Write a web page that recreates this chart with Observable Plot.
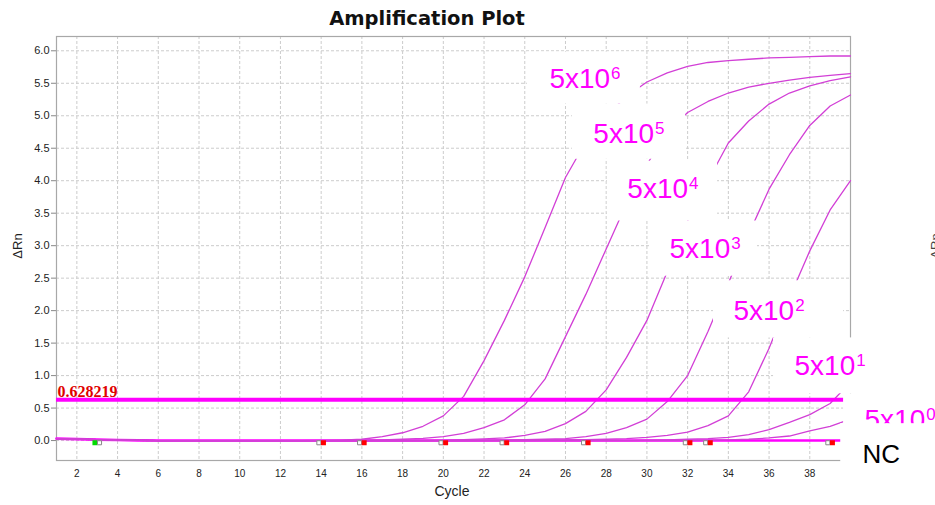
<!DOCTYPE html>
<html>
<head>
<meta charset="utf-8">
<script src="https://cdn.jsdelivr.net/npm/d3@7"></script>
<script src="https://cdn.jsdelivr.net/npm/@observablehq/plot@0.6"></script>
<style>
  html, body { margin: 0; padding: 0; background: #fff; }
  svg { display: block; }
</style>
</head>
<body>
<div id="chart"></div>
<script>
// Amplification cycles
const cycles = [1,2,3,4,5,6,7,8,9,10,11,12,13,14,15,16,17,18,19,20,
                21,22,23,24,25,26,27,28,29,30,31,32,33,34,35,36,37,38,39,40];

// ΔRn per cycle for each template dilution
const rn5e6 = [0.03,0.022,0.015,0.008,0.003, 0,0,0,0,0, 0,0,0,0.002,0.008, 0.02,0.06,0.12,0.22,0.38,
               0.68,1.23,1.85,2.52,3.28, 4.05,4.6,5.0,5.3,5.52, 5.66,5.76,5.82,5.85,5.87, 5.89,5.9,5.91,5.92,5.92];
const rn5e5 = [0.03,0.022,0.015,0.008,0.003, 0,0,0,0,0, 0,0,0,0,0, 0.005,0.01,0.02,0.035,0.06,
               0.11,0.2,0.32,0.55,0.95, 1.6,2.25,2.95,3.65,4.25, 4.75,5.05,5.22,5.35,5.44, 5.5,5.55,5.59,5.62,5.65];
const rn5e4 = [0.03,0.022,0.015,0.008,0.003, 0,0,0,0,0, 0,0,0,0,0, 0,0,0,0.003,0.008,
               0.015,0.025,0.04,0.08,0.14, 0.26,0.45,0.78,1.28,1.85, 2.6,3.38,4.0,4.58,4.92, 5.18,5.35,5.46,5.54,5.6];
const rn5e3 = [0.03,0.022,0.015,0.008,0.003, 0,0,0,0,0, 0,0,0,0,0, 0,0,0,0,0,
               0,0.005,0.01,0.015,0.02, 0.03,0.06,0.11,0.2,0.33, 0.6,1.0,1.68,2.42,3.18, 3.87,4.4,4.85,5.15,5.32];
const rn5e2 = [0.03,0.022,0.015,0.008,0.003, 0,0,0,0,0, 0,0,0,0,0, 0,0,0,0,0,
               0,0,0,0,0.005, 0.01,0.015,0.02,0.03,0.05, 0.08,0.13,0.23,0.38,0.75, 1.42,2.2,2.92,3.55,4.0];
const rn5e1 = [0.03,0.022,0.015,0.008,0.003, 0,0,0,0,0, 0,0,0,0,0, 0,0,0,0,0,
               0,0,0,0,0, 0,0,0,0,0.005, 0.01,0.02,0.03,0.05,0.09, 0.17,0.28,0.4,0.57,0.9];
const rn5e0 = [0.03,0.022,0.015,0.008,0.003, 0,0,0,0,0, 0,0,0,0,0, 0,0,0,0,0,
               0,0,0,0,0, 0,0,0,0,0, 0,0,0.005,0.01,0.02, 0.04,0.07,0.15,0.22,0.33];
const rnNC  = [0.03,0.022,0.015,0.008,0.003, 0,0,0,0,0, 0,0,0,0,0, 0,0,0,0,0,
               0,0,0,0,0, 0,0,0,0,0, 0,0,0,0,0, 0,0,0,0,0];

const seriesNames  = ["5x10^6", "5x10^5", "5x10^4", "5x10^3", "5x10^2", "5x10^1", "5x10^0"];
const seriesValues = [rn5e6, rn5e5, rn5e4, rn5e3, rn5e2, rn5e1, rn5e0];

// Threshold and baseline markers
const threshold = 0.628219;
const baselineStartCycles = [3];
const baselineEndCycles = [14, 16, 20, 23, 27, 32, 33, 39];

// Axis ticks
const xTicks = [2,4,6,8,10,12,14,16,18,20,22,24,26,28,30,32,34,36,38];
const yTicks = [0,0.5,1,1.5,2,2.5,3,3.5,4,4.5,5,5.5,6];

// Where each dilution label sits (cycle / ΔRn units): text anchor and its white backing box
const labelPlacement = [
  {label: "5x10^6", cx: 25.21, ry: 5.56, c1: 24.13, c2: 29.68, r1: 5.18, r2: 5.98},
  {label: "5x10^5", cx: 27.37, ry: 4.72, c1: 26.34, c2: 31.90, r1: 4.33, r2: 5.18},
  {label: "5x10^4", cx: 29.04, ry: 3.87, c1: 28.06, c2: 33.47, r1: 3.38, r2: 4.30},
  {label: "5x10^3", cx: 31.11, ry: 2.95, c1: 30.18, c2: 35.43, r1: 2.53, r2: 3.38},
  {label: "5x10^2", cx: 34.25, ry: 2.00, c1: 33.27, c2: 39.66, r1: 1.58, r2: 2.46},
  {label: "5x10^1", cx: 37.25, ry: 1.14, c1: 36.22, c2: 44.20, r1: 0.72, r2: 1.58},
  {label: "5x10^0", cx: 40.69, ry: 0.32, c1: 39.66, c2: 44.20, r1: 0.23, r2: 0.72}
];
const ncPlacement = [{label: "NC", cx: 40.59, ry: -0.215, c1: 39.52, c2: 44.20, r1: -0.61, r2: 0.26}];

// Long-format table for the line marks
const curves = seriesNames.flatMap((name, i) =>
  cycles.map((c, j) => ({series: name, cycle: c, rn: seriesValues[i][j]})));
const ncCurve = cycles.map((c, j) => ({series: "NC", cycle: c, rn: rnNC[j]}));

const curveColor = "#d23fd6";
const magenta = "#ff00ff";
const gridStyle = {stroke: "#cccccc", strokeOpacity: 1, strokeDasharray: "3,2"};

const plot = Plot.plot({
  width: 935,
  height: 505,
  marginLeft: 56,
  marginRight: 85,
  marginTop: 36,
  marginBottom: 45,
  style: {fontFamily: "'Liberation Sans', Arial, sans-serif", background: "#fff", color: "#222"},
  x: {domain: [1, 40], label: null},
  y: {domain: [-0.307, 6.22], label: null},
  marks: [
    Plot.gridX(xTicks, gridStyle),
    Plot.gridY(yTicks, gridStyle),
    Plot.axisX(xTicks, {tickSize: 0, tickPadding: 9, fontSize: 10, label: null}),
    Plot.axisY(yTicks, {tickSize: 5, tickPadding: 2, fontSize: 11, tickFormat: d3.format(".1f"), label: null, stroke: "#888"}),
    Plot.frame({stroke: "#a8a8a8", strokeWidth: 1.2}),
    Plot.line(ncCurve, {x: "cycle", y: "rn", stroke: magenta, strokeWidth: 2.6}),
    Plot.line(curves, {x: "cycle", y: "rn", z: "series", stroke: curveColor, strokeWidth: 1.3}),
    Plot.ruleY([threshold], {x1: 1, x2: 40, stroke: magenta, strokeWidth: 4}),
    Plot.text([threshold], {x: 1, y: threshold, text: d => String(d), textAnchor: "start", lineAnchor: "bottom",
      dx: 1, dy: -3, fill: "#e00000", fontWeight: "bold", fontSize: 16, fontFamily: "'Liberation Serif', 'Times New Roman', serif"}),
    // baseline start (green) / end (red) flags with their open partners
    Plot.dot(baselineStartCycles, {x: d => d, y: 0, dx: -2.3, dy: 2.2, symbol: "square", r: 2.8, fill: "#00dd00"}),
    Plot.dot(baselineStartCycles, {x: d => d, y: 0, dx: 2.3, dy: 2.2, symbol: "square", r: 2.3, fill: "white", stroke: "#888", strokeWidth: 1}),
    Plot.dot(baselineEndCycles, {x: d => d, y: 0, dx: -2.3, dy: 2.2, symbol: "square", r: 2.3, fill: "white", stroke: "#888", strokeWidth: 1}),
    Plot.dot(baselineEndCycles, {x: d => d, y: 0, dx: 2.3, dy: 2.2, symbol: "square", r: 2.8, fill: "#ff0000"}),
    // dilution labels on white boxes
    Plot.rect(labelPlacement, {x1: "c1", x2: "c2", y1: "r1", y2: "r2", fill: "white"}),
    Plot.text(labelPlacement, {x: "cx", y: "ry", text: "label", textAnchor: "start", fill: magenta, fontSize: 28}),
    Plot.rect(ncPlacement, {x1: "c1", x2: "c2", y1: "r1", y2: "r2", fill: "white"}),
    Plot.text(ncPlacement, {x: "cx", y: "ry", text: "label", textAnchor: "start", fill: "#000", fontSize: 26})
  ]
});

const svg = d3.select(plot);

// Render "5x10^n" as a real superscript exponent
svg.selectAll("text").each(function () {
  const m = /^(.*)\^(\d+)$/.exec(this.textContent);
  if (!m) return;
  const t = d3.select(this);
  t.text(null);
  t.append("tspan").text(m[1]);
  t.append("tspan").attr("dy", -9).attr("dx", 1).attr("font-size", 17).text(m[2]);
});

// Title and axis titles
svg.append("text")
  .attr("x", 427).attr("y", 25)
  .attr("text-anchor", "middle")
  .attr("font-family", "'DejaVu Sans', Verdana, sans-serif")
  .attr("font-weight", "bold")
  .attr("font-size", 19.5)
  .attr("fill", "#111")
  .text("Amplification Plot");

svg.append("text")
  .attr("transform", "translate(22,246) rotate(-90)")
  .attr("text-anchor", "middle")
  .attr("font-size", 13)
  .attr("fill", "#222")
  .text("ΔRn");

svg.append("text")
  .attr("x", 452).attr("y", 496)
  .attr("text-anchor", "middle")
  .attr("font-size", 14)
  .attr("fill", "#222")
  .text("Cycle");

// edge of the neighbouring panel's axis title
svg.append("text")
  .attr("transform", "translate(940,246) rotate(-90)")
  .attr("text-anchor", "middle")
  .attr("font-size", 13)
  .attr("fill", "#444")
  .text("ΔRn");

document.getElementById("chart").appendChild(plot);
</script>
</body>
</html>
